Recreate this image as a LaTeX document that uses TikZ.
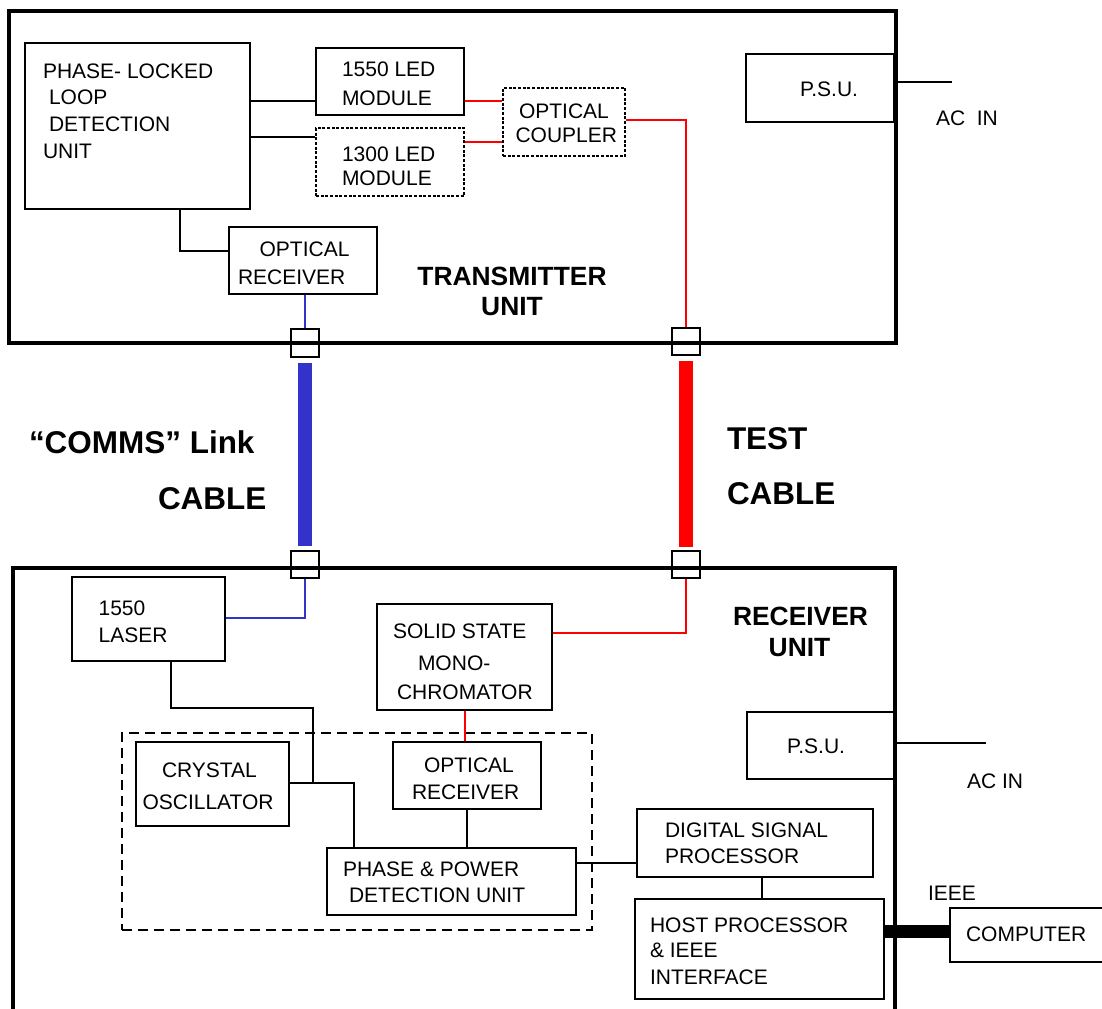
\documentclass[tikz,border=0pt]{standalone}
\usepackage{fontspec}
\setmainfont{Liberation Sans}
\usetikzlibrary{fit}
\definecolor{linkblue}{RGB}{51,51,204}
\definecolor{testred}{RGB}{255,0,0}
\newcommand\boxfont{\fontsize{15.75}{19}\selectfont}
\newcommand\unitfont{\fontsize{19.8}{24}\selectfont\bfseries}
\newcommand\cablefont{\fontsize{23.6}{28}\selectfont\bfseries}

\tikzset{every picture/.style={line width=1.5pt}}
\tikzset{
  unitbox/.style={draw, line width=3pt, inner sep=0pt},
  blk/.style={draw, inner sep=0pt},
  dotblk/.style={draw, line width=2.2pt, dash pattern=on 2.2pt off 1.3pt, inner sep=0pt},
  port/.style={draw, inner sep=0pt},
  grp/.style={draw, dash pattern=on 7.5pt off 4.5pt, inner sep=0pt},
  txt/.style={anchor=west, inner sep=0pt, font=\boxfont},
  unitlbl/.style={inner sep=0pt, font=\unitfont},
  cablelbl/.style={anchor=west, inner sep=0pt, font=\cablefont},
  bluewire/.style={draw=linkblue},
  redwire/.style={draw=testred},
  cable/.style={line width=10.5pt},
}

\begin{document}
\begin{tikzpicture}[x=0.75pt,y=0.75pt,yscale=-1,xscale=1]
\useasboundingbox (0,0) rectangle (1102,1008);
\clip (0,0) rectangle (1102,1008);

%Shape: Units
\node[unitbox, fit={(9,11) (896,343)}] (tx) {};
\node[unitbox, fit={(13,568) (895,1030)}] (rx) {};

%Shape: Transmitter blocks
\node[blk, fit={(25,43) (250,209)}] (pll) {};
\node[blk, fit={(316,48) (464,115)}] (ledA) {};
\node[dotblk, fit={(316,128) (464,196)}] (ledB) {};
\node[dotblk, fit={(503,88) (625,156)}] (coupler) {};
\node[blk, fit={(746,54) (894,122)}] (psuT) {};
\node[blk, fit={(229,227) (377,294)}] (orxT) {};

%Shape: Ports
\node[port, fit={(291,329) (319,357)}] (portTb) {};
\node[port, fit={(672,328) (700,355)}] (portTr) {};
\node[port, fit={(291,551) (319,578)}] (portRb) {};
\node[port, fit={(672,551) (700,578)}] (portRr) {};

%Shape: Receiver blocks
\node[grp, fit={(122,733) (592,930)}] (grp) {};
\node[blk, fit={(72,577) (225,661)}] (laser) {};
\node[blk, fit={(377,604) (552,710)}] (mono) {};
\node[blk, fit={(136,742) (289,826)}] (crys) {};
\node[blk, fit={(393,742) (541,809)}] (orxR) {};
\node[blk, fit={(327,848) (576,915)}] (ppd) {};
\node[blk, fit={(637,809) (873,877)}] (dsp) {};
\node[blk, fit={(635,899) (884,999)}] (host) {};
\node[blk, fit={(747,712) (894,779)}] (psuR) {};
\node[blk, fit={(950,908) (1120,962)}] (comp) {};

\coordinate (acT) at (952,82);
\coordinate (acR) at (986,743);
\coordinate (jn) at (313,782.5);

%Straight Lines
\draw (pll.east |- 0,101) -- (ledA.west |- 0,101);
\draw (pll.east |- 0,137) -- (ledB.west |- 0,137);
\draw (pll.south -| 180,0) |- (orxT.west |- 0,251);
\draw (tx.east |- acT) -- (acT);
\draw[redwire] (ledA.east |- 0,101) -- (coupler.west |- 0,101);
\draw[redwire] (ledB.east |- 0,142) -- (coupler.west |- 0,142);
\draw[redwire] (coupler.east |- 0,120) -| (portTr.north);
\draw[bluewire] (portTb.north |- orxT.south) -- (portTb.north);

%Straight Lines: cables
\draw[cable, linkblue, shorten <=3.75pt, shorten >=3pt] (portTb) -- (portRb);
\draw[cable, testred, shorten <=3.75pt, shorten >=2.25pt] (portTr) -- (portRr);

%Straight Lines: receiver
\draw[bluewire] (laser.east |- 0,618) -| (portRb.south);
\draw[redwire] (mono.east |- 0,633) -| (portRr.south);
\draw[redwire] (mono.south -| 465,0) -- (orxR.north -| 465,0);
\draw (laser.south -| 171,0) |- (jn |- 0,708) -- (jn);
\draw (crys.east |- jn) -| (ppd.north -| 354,0);
\draw (orxR.south -| 467,0) -- (ppd.north -| 467,0);
\draw (ppd.east |- 0,862.5) -- (dsp.west |- 0,862.5);
\draw (dsp.south -| 762,0) -- (host.north -| 762,0);
\draw[line width=9.75pt] (host.east |- 0,931) -- (comp.west |- 0,931);
\draw (rx.east |- acR) -- (acR);

% Text Node
\node[txt] at (42,71) {PHASE- LOCKED};
\node[txt] at (48,97) {LOOP};
\node[txt] at (48,124.5) {DETECTION};
\node[txt] at (42,151) {UNIT};
\node[txt] at (341,69) {1550 LED};
\node[txt] at (341,98) {MODULE};
\node[txt] at (341,154) {1300 LED};
\node[txt] at (341,178) {MODULE};
\node[txt] at (518,111) {OPTICAL};
\node[txt] at (514.5,135.5) {COUPLER};
\node[txt] at (799,89) {P.S.U.};
\node[txt] at (935,118.5) {AC\ \ IN};
\node[txt] at (258.6,249) {OPTICAL};
\node[txt] at (237,277) {RECEIVER};
\node[unitlbl] at (512,276) {TRANSMITTER};
\node[unitlbl] at (512,307) {UNIT};
% Text Node
\node[cablelbl] at (28,442.5) {“COMMS” Link};
\node[cablelbl] at (157,498.7) {CABLE};
\node[cablelbl] at (726,439) {TEST};
\node[cablelbl] at (726,494) {CABLE};
% Text Node
\node[unitlbl] at (800.5,616.7) {RECEIVER};
\node[unitlbl] at (799.5,648) {UNIT};
\node[txt] at (97.6,608.5) {1550};
\node[txt] at (97.6,635.5) {LASER};
\node[txt] at (392,631.3) {SOLID STATE};
\node[txt] at (417,663.3) {MONO-};
\node[txt] at (396,692.5) {CHROMATOR};
\node[txt] at (161,770.5) {CRYSTAL};
\node[txt] at (141.5,802) {OSCILLATOR};
\node[txt] at (423,765.3) {OPTICAL};
\node[txt] at (411,792.2) {RECEIVER};
\node[txt] at (342,869) {PHASE \& POWER};
\node[txt] at (348,895) {DETECTION UNIT};
\node[txt] at (664,830.5) {DIGITAL SIGNAL};
\node[txt] at (664,856.3) {PROCESSOR};
\node[txt] at (649,924.8) {HOST PROCESSOR};
\node[txt] at (649,950.8) {\& IEEE};
\node[txt] at (649,977.5) {INTERFACE};
\node[txt] at (786,746.7) {P.S.U.};
\node[txt] at (966,780.8) {AC IN};
\node[txt] at (927,893) {IEEE};
\node[txt] at (965,934.2) {COMPUTER};

\end{tikzpicture}
\end{document}
